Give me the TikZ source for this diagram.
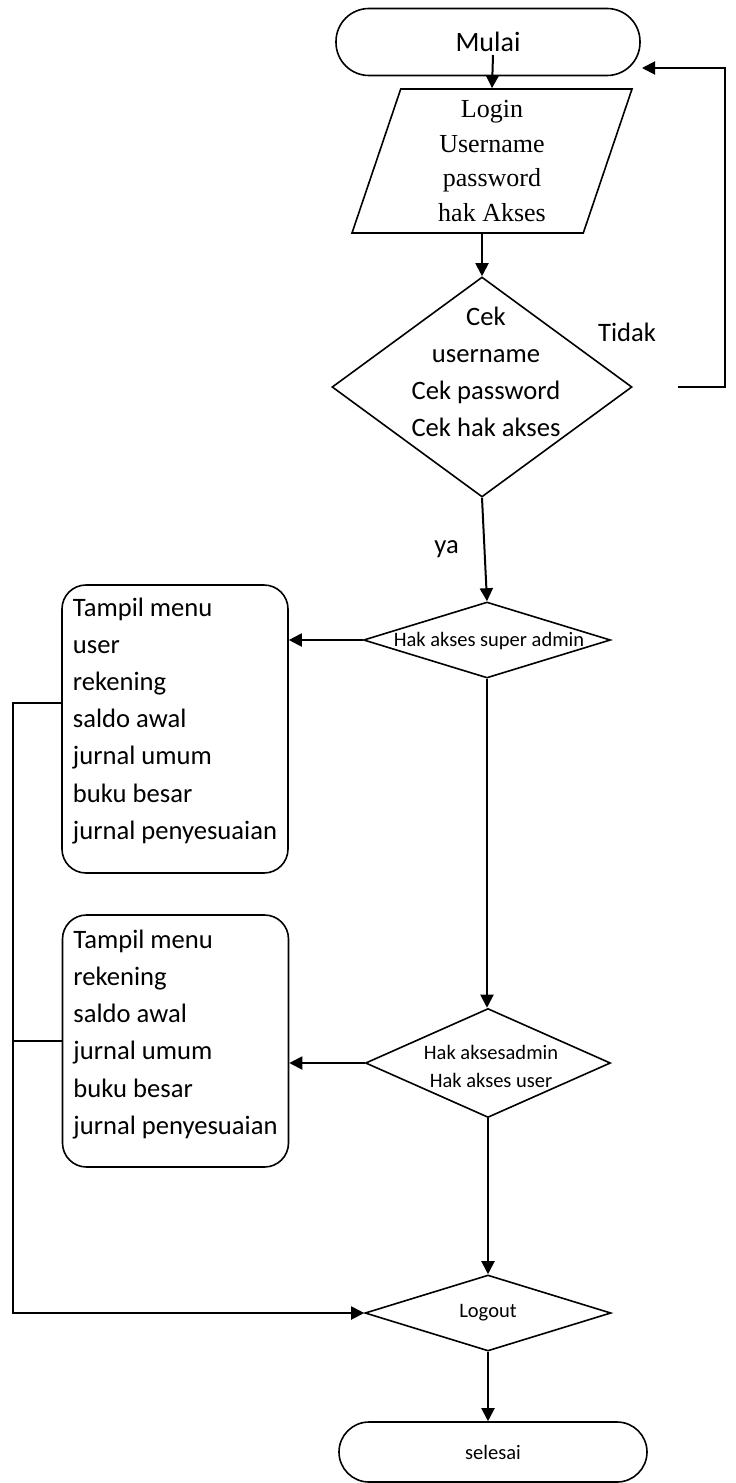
\documentclass[tikz,border=0pt]{standalone}
\usepackage{fontspec}
\setmainfont{Carlito}
\newfontfamily\serifmenu{Liberation Serif}
\usetikzlibrary{shapes.geometric,arrows.meta}

\newcommand{\bigtext}{\fontsize{13.3pt}{18.6pt}\selectfont}
\newcommand{\smalltext}{\fontsize{10.25pt}{14pt}\selectfont}

\begin{document}
\begin{tikzpicture}[x=0.5pt,y=-0.5pt,
	line width=0.8pt,
	font=\bigtext,
	terminal/.style={draw, inner sep=0pt},
	io/.style={draw, trapezium, trapezium left angle=68.7, trapezium right angle=111.3,
		trapezium stretches body, minimum width=140pt, minimum height=72pt,
		inner sep=1pt, align=center, font=\serifmenu\fontsize{13pt}{17.25pt}\selectfont},
	decision/.style={draw, diamond, inner sep=0pt},
	menu/.style={draw, rounded corners=12pt, align=left, minimum width=113pt, inner sep=0pt},
	flow/.style={-{Triangle[length=6.5pt,width=6.5pt]}, line width=1pt}]
	\useasboundingbox (0,0) rectangle (735,1483);

	\node[terminal, minimum width=152pt, minimum height=33.5pt, rounded corners=16.5pt,
		font=\fontsize{14pt}{16pt}\selectfont] (mulai) at (488,42) {Mulai};
	\node[io] (login) at (492,161) {Login\\Username\\password\\hak Akses};

	\node[decision, minimum width=150pt, minimum height=110pt] (cek) at (482,387) {};
	\node[align=center] (cektext) at (486,372) {Cek\\username\\Cek password\\Cek hak akses};
	\node (tidak) at (627,332) {Tidak};

	\node[decision, minimum width=123.5pt, minimum height=38pt] (sa) at (487,640) {};
	\node[font=\smalltext] (satext) at (489,641) {Hak akses super admin};
	\node[menu, minimum height=144pt] (menusa) at (175,729)
		{Tampil menu\\user\\rekening\\saldo awal\\jurnal umum\\buku besar\\jurnal penyesuaian\rule[-10.5pt]{0pt}{10.5pt}};

	\node[decision, minimum width=122.5pt, minimum height=54.5pt] (da) at (488,1063) {};
	\node[font=\smalltext, align=center] (datext) at (491,1066) {Hak aksesadmin\\Hak akses user};
	\node[menu, minimum height=126pt] (menuda) at (175.5,1041)
		{Tampil menu\\rekening\\saldo awal\\jurnal umum\\buku besar\\jurnal penyesuaian\rule[-9pt]{0pt}{9pt}};

	\node[decision, minimum width=123pt, minimum height=38pt, font=\smalltext] (logout) at (488,1313) {Logout};
	\node[terminal, minimum width=154pt, minimum height=30pt, rounded corners=15pt,
		font=\smalltext] (selesai) at (493,1452) {selesai};

	\coordinate (mulaiout) at (493,55);
	\coordinate (tidakout) at (678,387);
	\coordinate (tidakin) at (642,68);

	\draw[flow] (mulaiout) -- (login.north);
	\draw[flow] (login.south -| cek.north) -- (cek.north);
	\draw[flow] (cek.south) -- node[left=9pt] {ya} (sa.north);
	\draw[flow] (tidakout) -- ++(47,0) |- (tidakin);
	\draw[flow] (sa.west) -- (sa.west -| menusa.east);
	\draw[flow] (sa.south) -- (sa.south |- da.north);
	\draw[flow] (da.west) -- (da.west -| menuda.east);
	\draw[flow] (da.south) -- (logout.north);
	\draw[flow] ([yshift=13pt]menusa.west) -- ++(-48,0) |- (logout.west);
	\draw (menuda.west) -- ++(-49,0);
	\draw[flow] (logout.south) -- (logout.south |- selesai.north);
\end{tikzpicture}
\end{document}
